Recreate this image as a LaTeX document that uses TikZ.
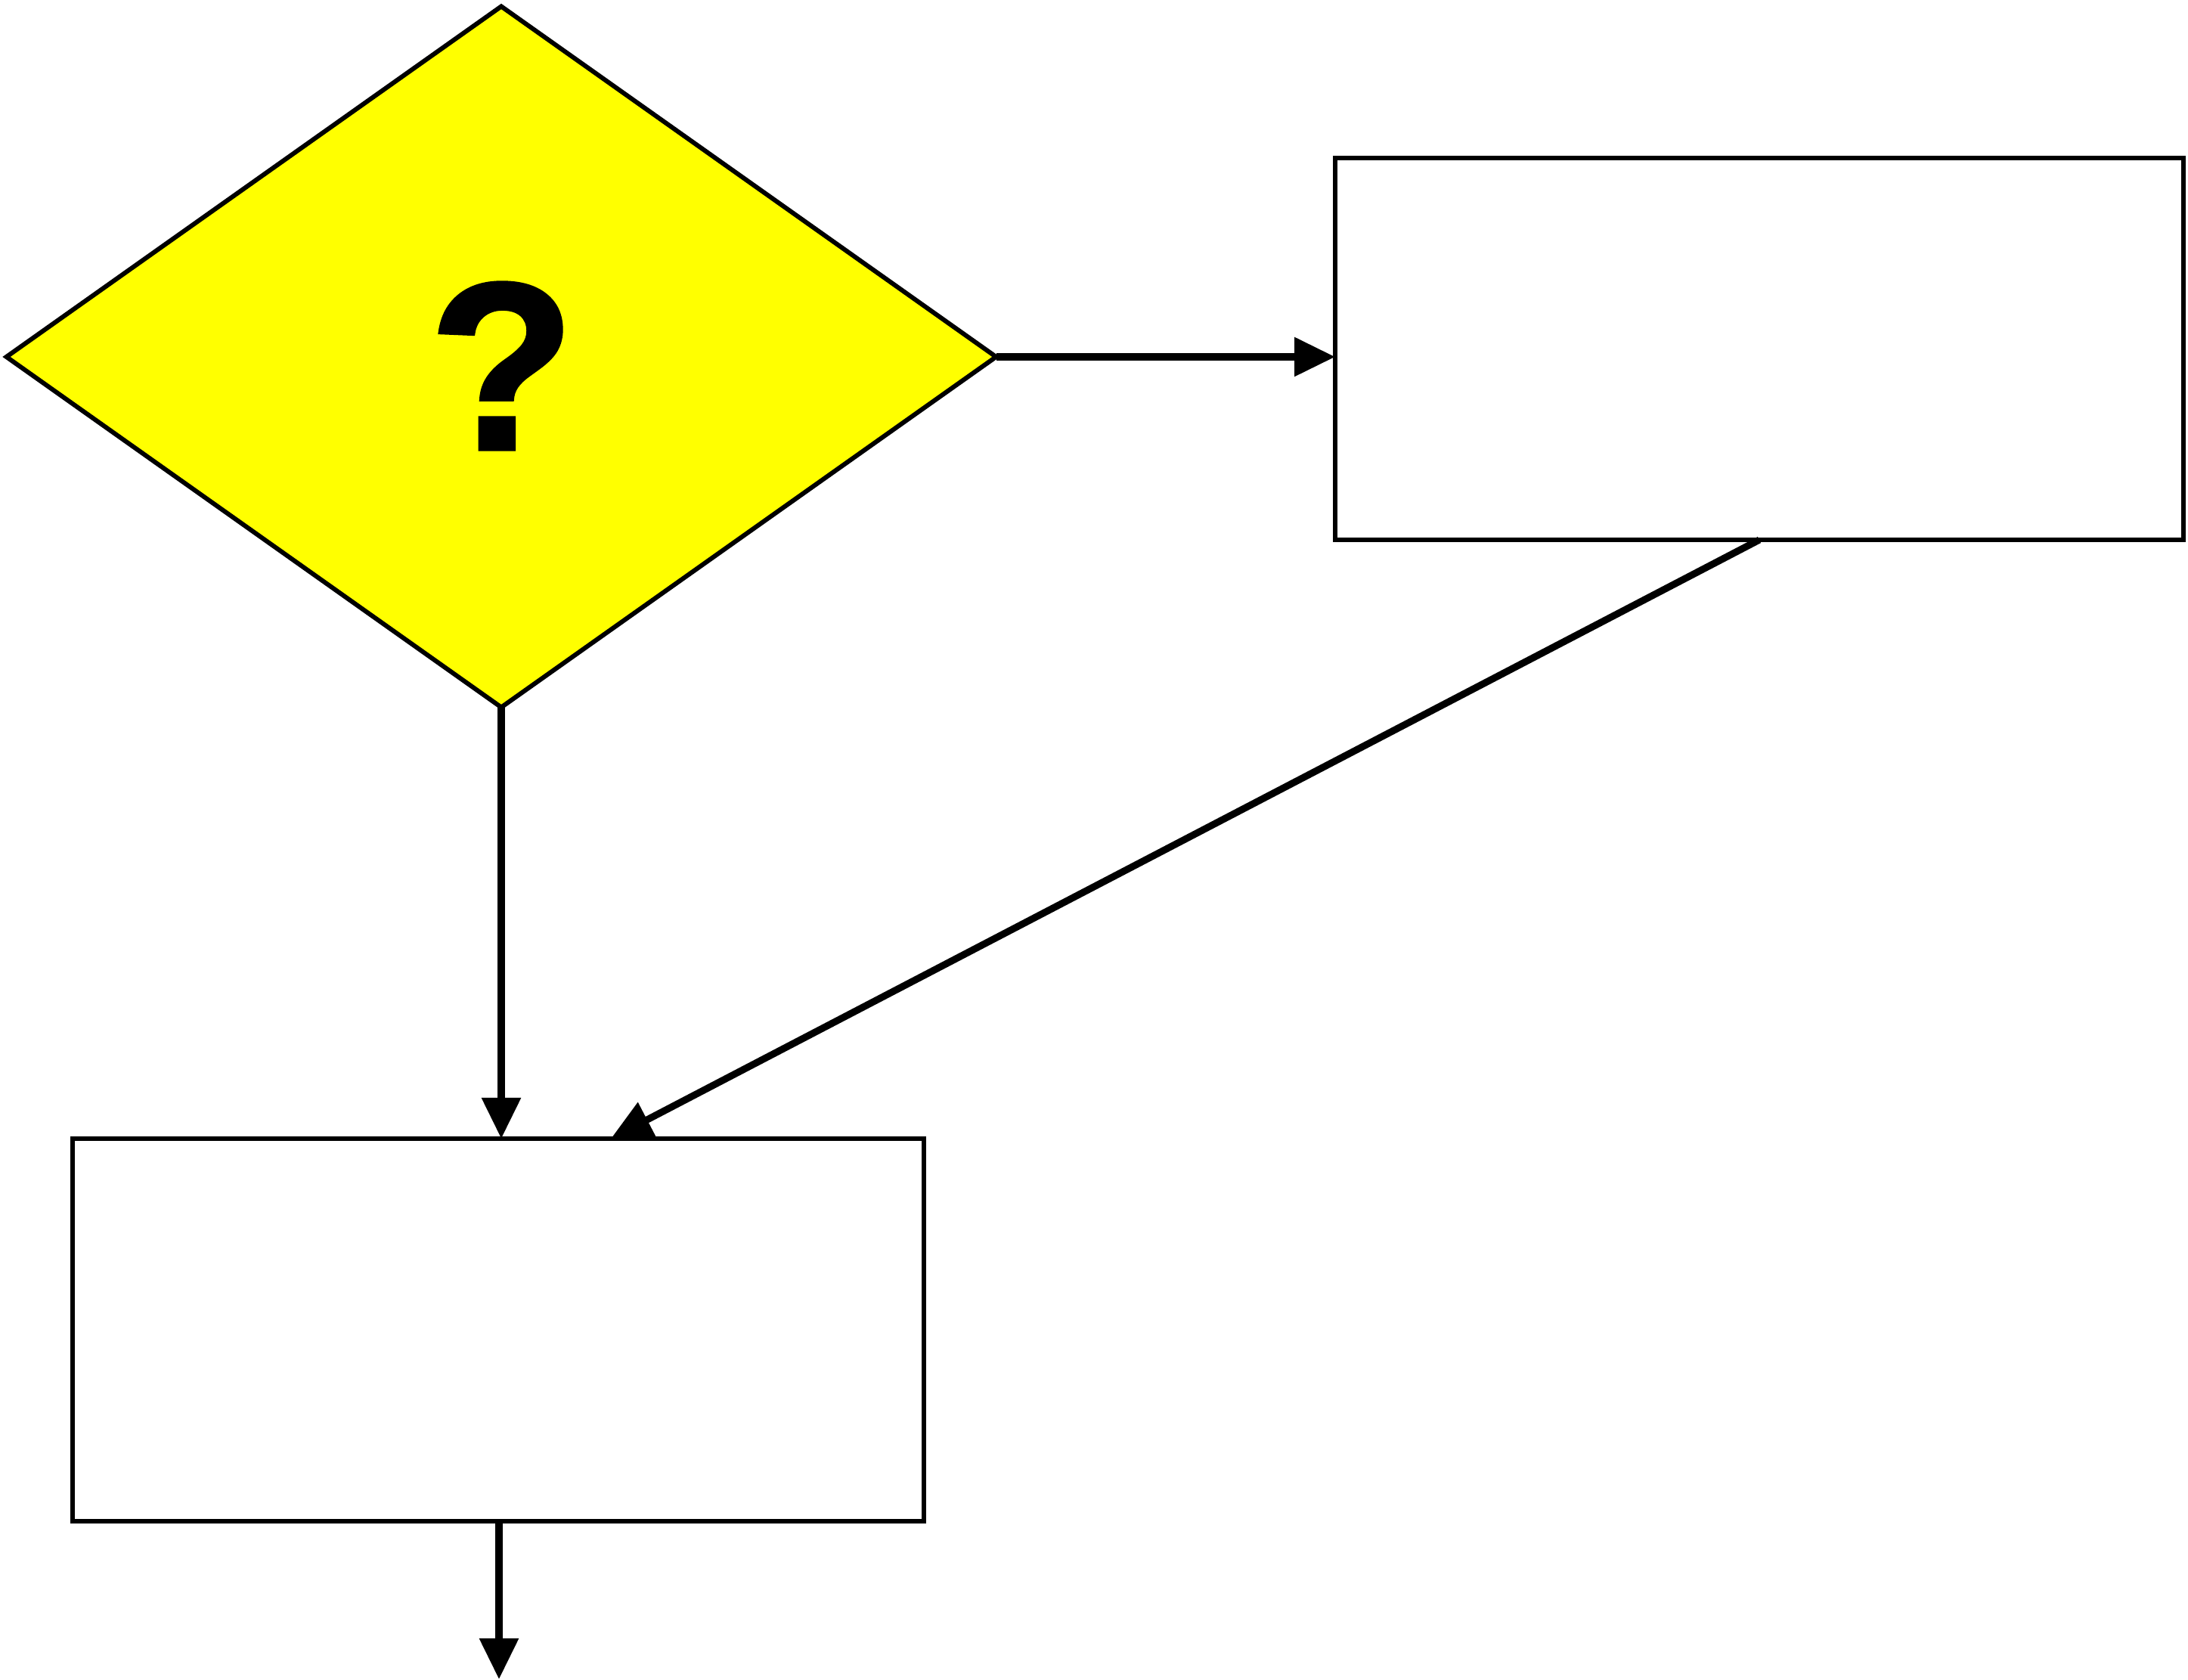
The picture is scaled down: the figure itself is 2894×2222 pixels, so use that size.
\documentclass[tikz,border=0pt]{standalone}
\usepackage{fontspec}
\setmainfont{Liberation Sans}
\newfontfamily\heavyface[BoldFeatures={FakeBold=1.5}]{Liberation Sans}
\usetikzlibrary{shapes.geometric,arrows.meta}
\definecolor{signyellow}{RGB}{255,255,0}
\begin{document}
\begin{tikzpicture}[x=0.25pt,y=-0.25pt,
  outline/.style={draw=black,line width=1.5pt,inner sep=0pt,outer sep=0pt},
  decision/.style={outline,diamond,fill=signyellow,minimum width=327.25pt,minimum height=231.75pt},
  process/.style={outline,rectangle,fill=white},
  flow/.style={draw=black,line width=2.3pt,-{Triangle[length=13.5pt,width=12.5pt]}},
  qmark/.style={font=\heavyface\bfseries\fontsize{79}{82}\selectfont}
]
\useasboundingbox (0,0) rectangle (2894,2222);

% decision and process boxes
\node[decision] (dec) at (663,472) {};
\node[qmark] (qm) at (664,484) {?};
\node[process,minimum width=280.5pt,minimum height=126.25pt] (rb) at (2327,461.5) {};
\node[process,minimum width=281.5pt,minimum height=126.5pt] (bb) at (659,1759) {};
\coordinate (out) at (660,2221);

% connectors
\draw[flow] (dec.east) -- (dec.east -| rb.west);
\draw[flow] (dec.south) -- (dec.south |- bb.north);
\draw[flow] (rb.south) -- ([xshift=37.25pt]bb.north);
\draw[flow] (bb.south -| out) -- (out);
\end{tikzpicture}
\end{document}
